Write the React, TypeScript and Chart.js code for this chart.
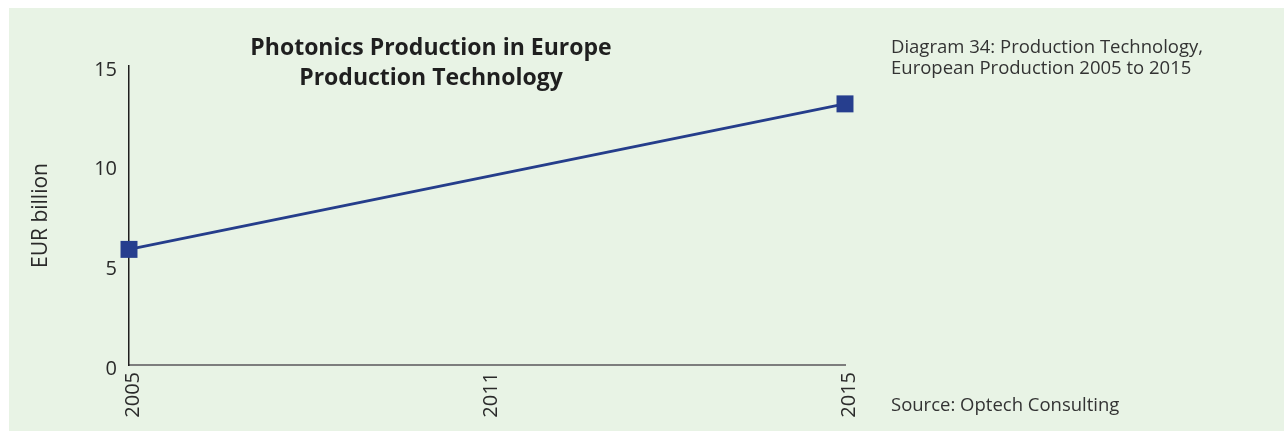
import React, { useEffect, useRef } from "react";
import { Chart, registerables } from "chart.js";

Chart.register(...registerables);

const categories = ["2005", "2011", "2015"];
const productionValues = [5.8, null, 13.1];
const yTickValues = [0, 5, 10, 15];
const titleLines = ["Photonics Production in Europe", "Production Technology"];
const captionLines = ["Diagram 34: Production Technology,", "European Production 2005 to 2015"];
const sourceText = "Source: Optech Consulting";
const yAxisTitle = "EUR billion";

const BG = "#e8f3e5";
const FONT = "'Open Sans', 'DejaVu Sans', sans-serif";

export default function App() {
  const canvasRef = useRef<HTMLCanvasElement | null>(null);

  useEffect(() => {
    const canvas = canvasRef.current;
    if (!canvas) return;
    const chart = new Chart(canvas, {
      type: "line",
      data: {
        labels: categories,
        datasets: [
          {
            data: productionValues,
            borderColor: "#253d8b",
            backgroundColor: "#263e8e",
            borderWidth: 3,
            pointStyle: "rect",
            pointRadius: 12,
            pointBorderWidth: 0,
            pointBackgroundColor: "#263e8e",
            spanGaps: true,
            tension: 0,
            clip: false as any,
          },
        ],
      },
      options: {
        responsive: false,
        animation: false,
        events: [],
        layout: { padding: { left: 0, right: 439, top: 58, bottom: 0 } },
        plugins: {
          legend: { display: false },
          title: { display: false },
          tooltip: { enabled: false },
        },
        scales: {
          x: {
            type: "category",
            grid: { display: false, drawTicks: false },
            border: { display: true, color: "#7d7d7d", width: 2 },
            ticks: {
              minRotation: 90,
              maxRotation: 90,
              autoSkip: false,
              padding: 7,
              labelOffset: 4,
              color: "#2a2a2a",
              font: { family: FONT, size: 20 },
            },
            afterFit: (scale: any) => {
              scale.height = 66;
              scale.paddingLeft = 0;
              scale.paddingRight = 0;
            },
          },
          y: {
            min: 0,
            max: 15,
            afterBuildTicks: (scale: any) => {
              scale.ticks = yTickValues.map((v) => ({ value: v }));
            },
            grid: { display: false, drawTicks: false },
            border: { display: true, color: "#1e1e1e", width: 1.5 },
            ticks: {
              padding: 12,
              labelOffset: 4,
              color: "#2a2a2a",
              font: { family: FONT, size: 20 },
            },
            title: {
              display: true,
              text: yAxisTitle,
              color: "#2a2a2a",
              font: { family: FONT, size: 21 },
              padding: { top: 19.5, bottom: 0 },
            },
            afterFit: (scale: any) => {
              scale.width = 120;
              scale.paddingTop = 0;
              scale.paddingBottom = 0;
            },
          },
        },
      },
    });
    return () => chart.destroy();
  }, []);

  return (
    <div
      style={{
        position: "fixed",
        left: 9,
        top: 8,
        width: 1275,
        height: 423,
        background: BG,
        fontFamily: FONT,
        color: "#2a2a2a",
      }}
    >
      <canvas
        ref={canvasRef}
        width={1275}
        height={423}
        style={{ position: "absolute", left: 0, top: 0, width: 1275, height: 423 }}
      />
      <div
        style={{
          position: "absolute",
          left: 0,
          top: 23,
          width: 844,
          textAlign: "center",
          fontWeight: 700,
          fontSize: 23,
          lineHeight: "30px",
          color: "#1f1f1f",
          whiteSpace: "nowrap",
        }}
      >
        {titleLines.map((t) => (
          <div key={t}>{t}</div>
        ))}
      </div>
      <div
        style={{
          position: "absolute",
          left: 882,
          top: 26.5,
          fontSize: 18.5,
          lineHeight: "21px",
          color: "#333",
          whiteSpace: "nowrap",
        }}
      >
        {captionLines.map((t) => (
          <div key={t}>{t}</div>
        ))}
      </div>
      <div
        style={{
          position: "absolute",
          left: 882,
          top: 384.5,
          fontSize: 18.5,
          lineHeight: "21px",
          color: "#333",
          whiteSpace: "nowrap",
        }}
      >
        {sourceText}
      </div>
    </div>
  );
}
